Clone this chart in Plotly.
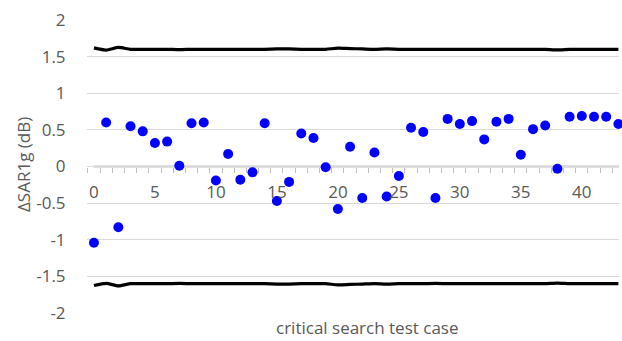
import plotly.graph_objects as go

cases = list(range(44))
delta_sar = [-1.04, 0.60, -0.83, 0.55, 0.48, 0.32, 0.34, 0.01, 0.59, 0.60,
             -0.19, 0.17, -0.18, -0.08, 0.59, -0.47, -0.21, 0.45, 0.39, -0.01,
             -0.58, 0.27, -0.43, 0.19, -0.41, -0.13, 0.53, 0.47, -0.43, 0.65,
             0.58, 0.62, 0.37, 0.61, 0.65, 0.16, 0.51, 0.56, -0.03, 0.68,
             0.69, 0.68, 0.68, 0.58]
upper_limit = [1.62, 1.59, 1.625, 1.60, 1.60, 1.60, 1.60, 1.595, 1.60, 1.60,
               1.60, 1.60, 1.60, 1.60, 1.60, 1.605, 1.605, 1.60, 1.60, 1.60,
               1.615, 1.61, 1.605, 1.60, 1.605, 1.60, 1.60, 1.60, 1.60, 1.60,
               1.60, 1.60, 1.60, 1.60, 1.60, 1.60, 1.60, 1.60, 1.592, 1.60,
               1.60, 1.60, 1.60, 1.60]
lower_limit = [-1.625, -1.595, -1.63, -1.60, -1.60, -1.60, -1.60, -1.595, -1.60, -1.60,
               -1.60, -1.60, -1.60, -1.60, -1.60, -1.605, -1.605, -1.60, -1.60, -1.60,
               -1.615, -1.61, -1.605, -1.60, -1.605, -1.60, -1.60, -1.60, -1.595, -1.60,
               -1.60, -1.60, -1.60, -1.60, -1.60, -1.60, -1.60, -1.60, -1.592, -1.60,
               -1.60, -1.60, -1.60, -1.60]
x_ticks = [0, 5, 10, 15, 20, 25, 30, 35, 40]
y_ticks = [-2, -1.5, -1, -0.5, 0, 0.5, 1, 1.5, 2]
y_labels = ["-2", "-1.5", "-1", "-0.5", "0", "0.5", "1", "1.5", "2"]

FONT = "Open Sans"
TXT = "#595959"
FS = 17

fig = go.Figure()
fig.add_trace(go.Scatter(x=cases, y=upper_limit, mode="lines",
                         line=dict(color="black", width=3.2, shape="spline", smoothing=0.6),
                         showlegend=False))
fig.add_trace(go.Scatter(x=cases, y=lower_limit, mode="lines",
                         line=dict(color="black", width=3.2, shape="spline", smoothing=0.6),
                         showlegend=False))
fig.add_trace(go.Scatter(x=cases, y=delta_sar, mode="markers",
                         marker=dict(color="#0000ff", size=10, line=dict(width=0)),
                         cliponaxis=False, showlegend=False))

xmin, xmax = -0.57, 43.05
fig.add_shape(type="line", xref="x", yref="y", x0=-0.05, x1=xmax, y0=0, y1=0,
              line=dict(color="#bfbfbf", width=2.2), layer="below")

fig.update_layout(
    width=622, height=341,
    margin=dict(l=87, r=3, t=20, b=28),
    paper_bgcolor="white", plot_bgcolor="white",
    font=dict(family=FONT, size=FS, color=TXT),
    xaxis=dict(range=[xmin, xmax], anchor="free", position=0.5,
               tickmode="array", tickvals=x_ticks, ticktext=[str(v) for v in x_ticks],
               ticks="outside", ticklen=10, tickcolor="rgba(0,0,0,0)",
               showgrid=False, zeroline=False, showline=False,
               tickfont=dict(family=FONT, size=FS, color=TXT),
               minor=dict(ticks="outside", tick0=-0.5, dtick=1, ticklen=5,
                          tickcolor="#bfbfbf", tickwidth=1, showgrid=False)),
    yaxis=dict(range=[-2, 2], tickmode="array", tickvals=y_ticks, ticktext=y_labels,
               showgrid=True, gridcolor="#d9d9d9", gridwidth=1, zeroline=False,
               ticks="outside", ticklen=17, tickcolor="rgba(0,0,0,0)",
               tickfont=dict(family=FONT, size=FS, color=TXT)),
    annotations=[
        dict(text="critical search test case", xref="paper", yref="paper",
             x=(367 - 87) / 532, y=-14 / 293, xanchor="center", yanchor="middle",
             showarrow=False, font=dict(family=FONT, size=FS, color=TXT)),
        dict(text="ΔSAR1g (dB)", xref="paper", yref="paper",
             x=(23 - 87) / 532, y=(313 - 165) / 293, xanchor="center", yanchor="middle",
             textangle=-90, showarrow=False, font=dict(family=FONT, size=FS, color=TXT)),
    ],
)

fig.write_html("out.html")
